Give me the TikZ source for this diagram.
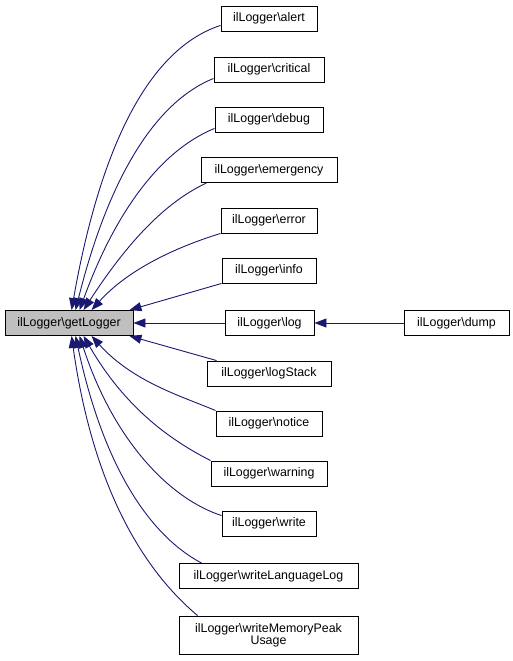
\documentclass[tikz,border=0pt]{standalone}
\usepackage{fontspec}
\setmainfont{Liberation Sans}
\usetikzlibrary{arrows.meta}
\definecolor{edgeblue}{HTML}{191970}
\begin{document}
\begin{tikzpicture}[
  x=1pt, y=-1pt,
  fn/.style={draw=black, line width=0.9pt, minimum height=25pt, inner sep=0pt,
    font=\fontsize{12.4}{14}\selectfont},
  cur/.style={fn, fill=black!25},
  e/.style={draw=edgeblue, line width=0.9pt, -{Triangle[length=12pt,width=9pt]}}
]
\useasboundingbox (0,0) rectangle (513,661);
\node[cur, minimum width=128pt] (get) at (69,323) {ilLogger\textbackslash getLogger};
\node[fn, minimum width=96pt] (alert) at (269,18.5) {ilLogger\textbackslash alert};
\node[fn, minimum width=110pt] (critical) at (269,69.5) {ilLogger\textbackslash critical};
\node[fn, minimum width=108pt] (debug) at (269,119.5) {ilLogger\textbackslash debug};
\node[fn, minimum width=136pt] (emergency) at (269,170) {ilLogger\textbackslash emergency};
\node[fn, minimum width=96pt] (error) at (269,220.5) {ilLogger\textbackslash error};
\node[fn, minimum width=94pt] (info) at (269,270.5) {ilLogger\textbackslash info};
\node[fn, minimum width=89pt] (log) at (269.5,323) {ilLogger\textbackslash log};
\node[fn, minimum width=105pt] (dump) at (456.5,323) {ilLogger\textbackslash dump};
\node[fn, minimum width=124pt] (logstack) at (269,373.5) {ilLogger\textbackslash logStack};
\node[fn, minimum width=106pt] (notice) at (269,423.5) {ilLogger\textbackslash notice};
\node[fn, minimum width=116pt] (warning) at (269,473.5) {ilLogger\textbackslash warning};
\node[fn, minimum width=94pt] (write) at (269,523.5) {ilLogger\textbackslash write};
\node[fn, minimum width=179pt] (langlog) at (268.5,576) {ilLogger\textbackslash writeLanguageLog};
\node[fn, minimum width=179pt, minimum height=38pt, align=center] (peak) at (268.5,635)
  {ilLogger\textbackslash writeMemoryPeak\\[-2pt]Usage};

% callers above
\draw[e] ([yshift=6pt]alert.south west) to[out=198,in=80,out distance=80pt,in distance=155pt] ([xshift=67pt]get.north west);
\draw[e] ([yshift=4pt]critical.south west) to[out=202,in=76,out distance=66pt,in distance=130pt] ([xshift=71pt]get.north west);
\draw[e] ([yshift=4pt]debug.south west) to[out=202,in=70,out distance=56pt,in distance=108pt] ([xshift=75pt]get.north west);
\draw[e] ([xshift=6pt]emergency.south west) to[out=205,in=57,out distance=45pt,in distance=82pt] ([xshift=79pt]get.north west);
\draw[e] (error.south west) to[out=197,in=48,out distance=40pt,in distance=58pt] ([xshift=87pt]get.north west);
\draw[e] (info.south west) -- ([xshift=-4pt]get.north east);
\draw[e] (log.west) -- (get.east);
\draw[e] (dump.west) -- (log.east);
% callers below
\draw[e] ([xshift=10pt]logstack.north west) -- ([xshift=-4pt]get.south east);
\draw[e] (notice.north west) to[out=157,in=-48,out distance=36pt,in distance=62pt] ([xshift=87pt]get.south west);
\draw[e] (warning.north west) to[out=153,in=-60,out distance=44pt,in distance=84pt] ([xshift=79pt]get.south west);
\draw[e] ([yshift=-5pt]write.north west) to[out=162,in=-72,out distance=56pt,in distance=108pt] ([xshift=75pt]get.south west);
\draw[e] ([xshift=23pt]langlog.north west) to[out=152,in=-78,out distance=64pt,in distance=125pt] ([xshift=71pt]get.south west);
\draw[e] ([xshift=19pt]peak.north west) to[out=140,in=-82,out distance=75pt,in distance=148pt] ([xshift=67pt]get.south west);
\end{tikzpicture}
\end{document}
